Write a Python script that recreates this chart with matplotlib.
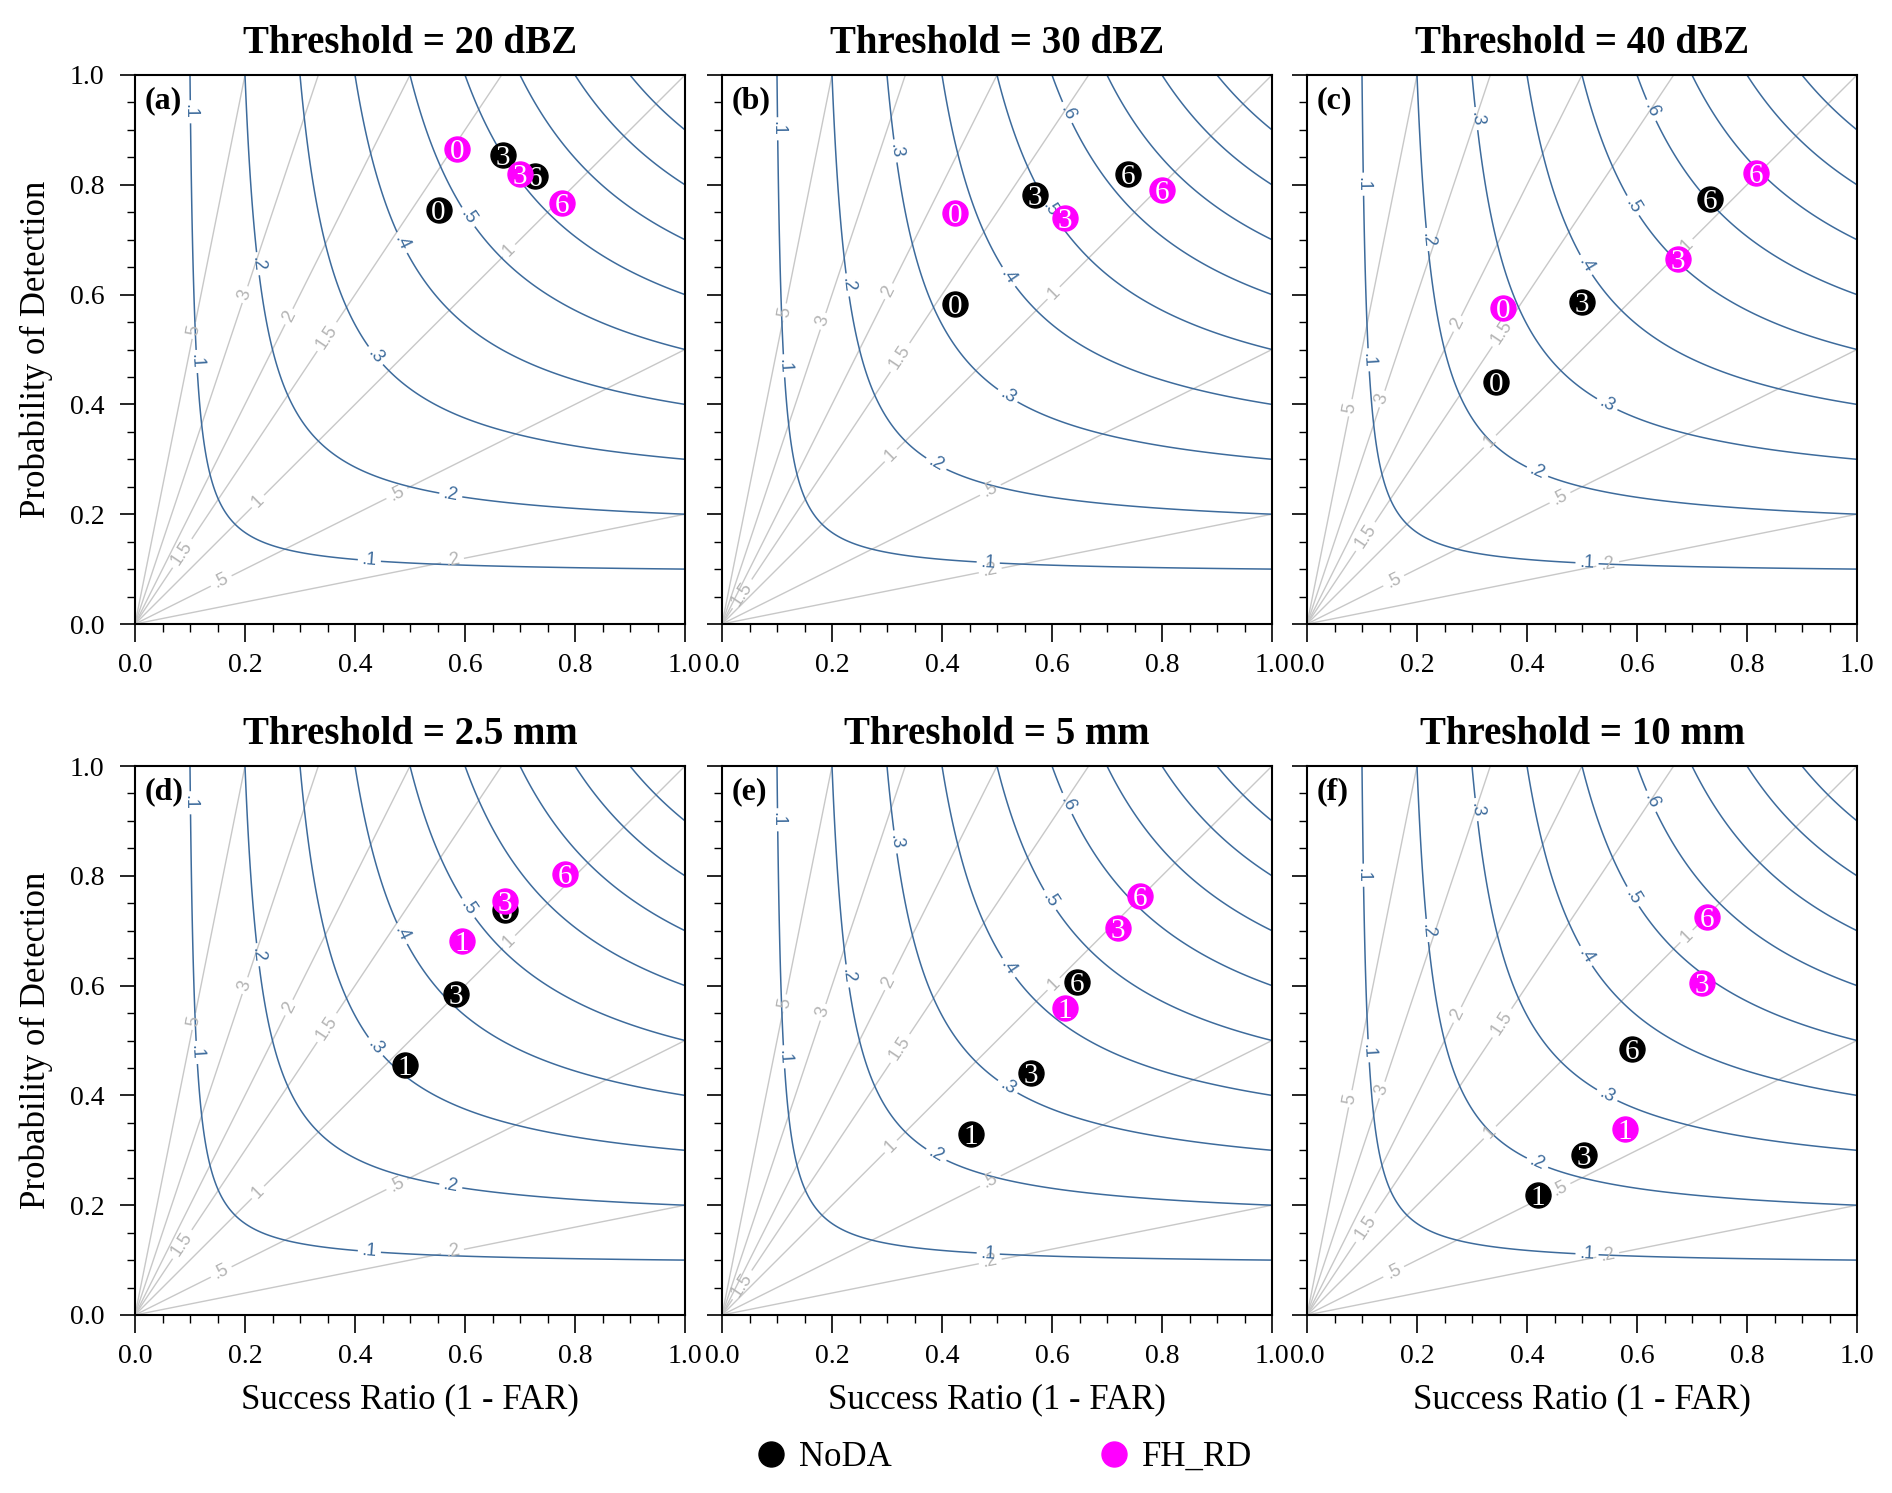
import numpy as np
import matplotlib
matplotlib.use("Agg")
import matplotlib.pyplot as plt
from matplotlib.lines import Line2D

# ---------------- data ----------------
titles = ["Threshold = 20 dBZ", "Threshold = 30 dBZ", "Threshold = 40 dBZ",
          "Threshold = 2.5 mm", "Threshold = 5 mm", "Threshold = 10 mm"]
panel_tags = ["(a)", "(b)", "(c)", "(d)", "(e)", "(f)"]
hours_radar = ["0", "3", "6"]
hours_precip = ["1", "3", "6"]

# Success ratio / POD for each panel, ordered by forecast hour
noda_sr = [[0.552, 0.669, 0.728], [0.424, 0.569, 0.739], [0.344, 0.500, 0.733],
           [0.490, 0.584, 0.672], [0.453, 0.562, 0.645], [0.420, 0.503, 0.590]]
noda_pod = [[0.754, 0.854, 0.816], [0.582, 0.782, 0.819], [0.440, 0.587, 0.775],
            [0.455, 0.584, 0.738], [0.330, 0.440, 0.607], [0.219, 0.292, 0.484]]
fhrd_sr = [[0.586, 0.700, 0.777], [0.423, 0.624, 0.800], [0.357, 0.674, 0.817],
           [0.594, 0.672, 0.782], [0.624, 0.720, 0.760], [0.578, 0.718, 0.728]]
fhrd_pod = [[0.866, 0.819, 0.766], [0.749, 0.739, 0.791], [0.576, 0.665, 0.821],
            [0.681, 0.755, 0.803], [0.559, 0.705, 0.763], [0.338, 0.605, 0.725]]

series_names = ["NoDA", "FH_RD"]
csi_levels = [0.1, 0.2, 0.3, 0.4, 0.5, 0.6, 0.7, 0.8, 0.9]
bias_levels = [0.2, 0.5, 1.0, 1.5, 2.0, 3.0, 5.0]

# ---------------- layout / style ----------------
FW, FH = 1892, 1493
CSI_COLOR = "#3d6b9c"
BIAS_COLOR = "#c8c8c8"
BIAS_LABEL_COLOR = "#b4b4b4"
COLORS = ["black", "#ff00ff"]
SERIF = ["Liberation Serif", "DejaVu Serif"]
SANS = ["Liberation Sans", "DejaVu Sans"]

# contour label anchor positions per column (layout only)
csi_lab_pos = [
    [(0.099, 0.933), (0.109, 0.478), (0.426, 0.114), (0.221, 0.656), (0.574, 0.234),
     (0.434, 0.486), (0.482, 0.693), (0.601, 0.738)],
    [(0.098, 0.902), (0.108, 0.470), (0.484, 0.111), (0.224, 0.617), (0.388, 0.289),
     (0.310, 0.861), (0.519, 0.415), (0.519, 0.631), (0.592, 0.753), (0.624, 0.930)],
    [(0.096, 0.801), (0.108, 0.481), (0.509, 0.108), (0.215, 0.700), (0.418, 0.275),
     (0.303, 0.920), (0.544, 0.397), (0.504, 0.652), (0.589, 0.760), (0.622, 0.934)],
]
bias_lab_pos = [
    [(0.107, 0.535), (0.200, 0.600), (0.282, 0.559), (0.351, 0.522), (0.679, 0.681),
     (0.229, 0.218), (0.087, 0.128), (0.156, 0.080), (0.476, 0.238), (0.578, 0.112)],
    [(0.115, 0.568), (0.185, 0.551), (0.303, 0.606), (0.326, 0.484), (0.603, 0.603),
     (0.307, 0.307), (0.488, 0.244), (0.488, 0.096), (0.035, 0.056)],
    [(0.078, 0.394), (0.136, 0.410), (0.273, 0.547), (0.357, 0.530), (0.690, 0.690),
     (0.331, 0.334), (0.460, 0.230), (0.547, 0.108), (0.105, 0.160), (0.157, 0.080)],
]

lefts = [135 / FW, 722 / FW, 1307 / FW]
bottoms = [1 - 624 / FH, 1 - 1315 / FH]
aw, ah = 550 / FW, 549 / FH


def fmt(v):
    s = f"{v:g}"
    return s[1:] if s.startswith("0.") else s


fig = plt.figure(figsize=(FW / 100, FH / 100), dpi=100)

n = 600
g = np.linspace(0.0005, 1.0, n)
SR, POD = np.meshgrid(g, g)
CSI = 1.0 / (1.0 / SR + 1.0 / POD - 1.0)
BIAS = POD / SR

for i in range(6):
    r, c = divmod(i, 3)
    ax = fig.add_axes([lefts[c], bottoms[r], aw, ah])
    ax.set_xlim(0, 1)
    ax.set_ylim(0, 1)

    cb = ax.contour(SR, POD, BIAS, levels=bias_levels, colors=BIAS_COLOR,
                    linewidths=1.0, zorder=1)
    cc = ax.contour(SR, POD, CSI, levels=csi_levels, colors=CSI_COLOR,
                    linewidths=1.1, zorder=2)
    bl = ax.clabel(cb, fmt=fmt, fontsize=13, inline=True, inline_spacing=3,
                   manual=bias_lab_pos[c], colors=BIAS_LABEL_COLOR)
    cl = ax.clabel(cc, fmt=fmt, fontsize=13, inline=True, inline_spacing=3,
                   manual=csi_lab_pos[c])
    for t in list(bl) + list(cl):
        t.set_family(SANS)

    hours = hours_radar if r == 0 else hours_precip
    for s, (xs, ys) in enumerate([(noda_sr[i], noda_pod[i]), (fhrd_sr[i], fhrd_pod[i])]):
        for x, y, h in zip(xs, ys, hours):
            ax.plot([x], [y], "o", ms=18, color=COLORS[s], mec=COLORS[s], zorder=5 + 2 * s)
            ax.text(x, y, h, color="white", ha="center", va="center_baseline",
                    fontsize=21, family=SERIF, zorder=6 + 2 * s)

    ax.text(0.018, 0.953, panel_tags[i], transform=ax.transAxes, fontsize=23,
            fontweight="bold", family=SERIF, ha="left", va="center", zorder=10)
    ax.set_title(titles[i], fontsize=28, fontweight="bold", family=SERIF, pad=16)

    ax.set_xticks(np.arange(0, 1.01, 0.2))
    ax.set_yticks(np.arange(0, 1.01, 0.2))
    ax.set_xticks(np.arange(0, 1.01, 0.05), minor=True)
    ax.set_yticks(np.arange(0, 1.01, 0.05), minor=True)
    ax.set_xticklabels([f"{v:.1f}" for v in np.arange(0, 1.01, 0.2)])
    if c == 0:
        ax.set_yticklabels([f"{v:.1f}" for v in np.arange(0, 1.01, 0.2)])
        ax.set_ylabel("Probability of Detection", fontsize=25, family=SERIF, labelpad=12)
    else:
        ax.set_yticklabels([])
    if r == 1:
        ax.set_xlabel("Success Ratio (1 - FAR)", fontsize=25, family=SERIF, labelpad=10)
    ax.tick_params(axis="both", which="major", direction="out", length=11, width=1.2,
                   labelsize=20, pad=11)
    ax.tick_params(axis="x", which="major", length=13, pad=8)
    ax.tick_params(axis="both", which="minor", direction="out", length=6, width=1.0)
    for lab in ax.get_xticklabels() + ax.get_yticklabels():
        lab.set_family(SERIF)
    for sp in ax.spines.values():
        sp.set_linewidth(1.5)

handles = [Line2D([], [], marker="o", ls="none", ms=18, color=COLORS[k]) for k in range(2)]
leg = fig.legend(handles, series_names, loc="center", bbox_to_anchor=(0.53, 0.024),
                 ncol=2, frameon=False, columnspacing=5.9, handlelength=1.0,
                 handletextpad=0.3, prop={"family": SERIF, "size": 25})

fig.savefig("out.png", dpi=100)
